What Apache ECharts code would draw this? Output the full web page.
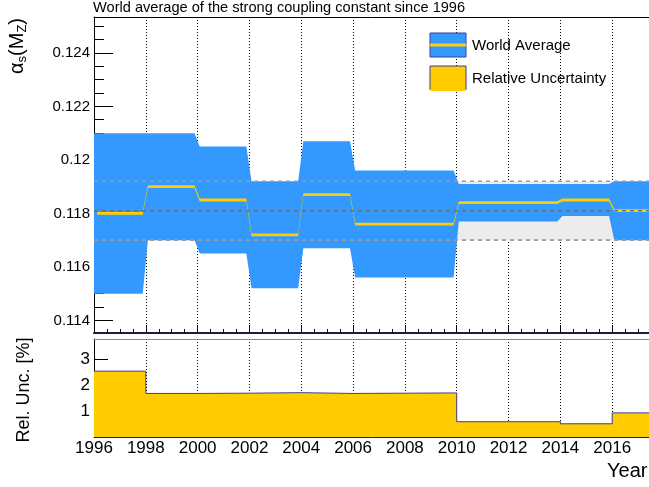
<!DOCTYPE html>
<html lang="en">
<head>
<meta charset="UTF-8">
<title>World average of alpha_s</title>
<script src="https://cdn.jsdelivr.net/npm/echarts@6/dist/echarts.min.js"></script>
<style>
    html, body { margin: 0; padding: 0; background: #fff; }
    #main { width: 649px; height: 487px; }
</style>
</head>
<body>
<div id="main"></div>
<script>
    // values
    var updateYears = [1996, 1998, 2000, 2002, 2004, 2006, 2010, 2012, 2014, 2016];
    var asCentral   = [0.1180, 0.1190, 0.1185, 0.1172, 0.1187, 0.1176, 0.1184, 0.1184, 0.1185, 0.1181];
    var asError     = [0.0030, 0.0020, 0.0020, 0.0020, 0.0020, 0.0020, 0.0007, 0.0007, 0.0006, 0.0011];
    var relUnc      = [2.54, 1.68, 1.69, 1.71, 1.68, 1.70, 0.59, 0.59, 0.51, 0.93];
    var refValue = 0.1181;
    var refBand  = [0.1170, 0.1192];
    var lastYear = 2018;

    // tick labels
    var yearTicks = [1996, 1998, 2000, 2002, 2004, 2006, 2008, 2010, 2012, 2014, 2016];
    var asTicks   = [0.114, 0.116, 0.118, 0.120, 0.122, 0.124];
    var relTicks  = [1, 2, 3];

    var FONT = 'Liberation Sans';
    var BLUE = '#3399ff', YELLOW = '#ffcc00', NAVY = '#3d3d99';

    var asMin = 0.11353, asMax = 0.12534;
    var asMinorTicks = [];
    for (var k = 0; k < 24; k++) asMinorTicks.push(Math.round((0.1135 + k * 0.0005) * 1e5) / 1e5);

    // band edges: flat between updates, short ramps around each update
    var riseBefore = 0.12, riseAfter = 0.08;
    function stepPath(values) {
        var pts = [];
        for (var i = 0; i < updateYears.length; i++) {
            var x0 = i === 0 ? updateYears[0] : updateYears[i] + riseAfter;
            var x1 = i === updateYears.length - 1 ? lastYear : updateYears[i + 1] - riseBefore;
            pts.push([x0, values[i]], [x1, values[i]]);
        }
        return pts;
    }
    var upperEdge = stepPath(asCentral.map(function (c, i) { return c + asError[i]; }));
    var lowerEdge = stepPath(asCentral.map(function (c, i) { return c - asError[i]; }));
    var centralPath = stepPath(asCentral);

    var relData = updateYears.map(function (y, i) { return [y, relUnc[i]]; });
    relData.push([lastYear, relUnc[relUnc.length - 1]]);

    function hline(v, color) {
        return {
            type: 'line', xAxisIndex: 0, yAxisIndex: 0, z: 5, silent: true,
            symbol: 'none', data: [[1996, v], [lastYear, v]],
            lineStyle: { color: color, width: 1.6, type: [4, 4] }
        };
    }

    var myChart = echarts.init(document.getElementById('main'));
    var option = {
        animation: false,
        backgroundColor: '#fff',
        grid: [
            { left: 94, top: 17, width: 570, height: 316, containLabel: false, outerBoundsMode: 'none' },
            { left: 94, top: 339, width: 570, height: 98, containLabel: false, outerBoundsMode: 'none' }
        ],
        xAxis: [
            {   // top panel, bottom axis
                gridIndex: 0, type: 'value', min: 1996, max: lastYear, interval: 2,
                axisLine: { lineStyle: { color: '#1c1c44', width: 2 } },
                axisTick: { inside: true, length: 8, lineStyle: { color: '#000' } },
                minorTick: { show: true, splitNumber: 4, length: 4, lineStyle: { color: '#000' } },
                axisLabel: { show: false },
                splitLine: { show: true, lineStyle: { color: '#000', width: 1, type: [1, 2] } }
            },
            {   // top panel frame
                gridIndex: 0, type: 'value', position: 'top', min: 1996, max: lastYear,
                axisLine: { lineStyle: { color: '#000', width: 1 } },
                axisTick: { show: false }, axisLabel: { show: false }, splitLine: { show: false }
            },
            {   // bottom panel, bottom axis
                gridIndex: 1, type: 'value', min: 1996, max: lastYear, interval: 2,
                axisLine: { lineStyle: { color: '#222', width: 1 } },
                axisTick: { show: false },
                axisLabel: {
                    customValues: yearTicks, fontFamily: FONT, fontSize: 17, color: '#000', margin: 3,
                    formatter: function (v) { return String(v); }
                },
                splitLine: { show: true, lineStyle: { color: '#000', width: 1, type: [1, 2] } }
            },
            {   // bottom panel frame
                gridIndex: 1, type: 'value', position: 'top', min: 1996, max: lastYear,
                axisLine: { lineStyle: { color: '#888', width: 1 } },
                axisTick: { show: false }, axisLabel: { show: false }, splitLine: { show: false }
            }
        ],
        yAxis: [
            {
                gridIndex: 0, type: 'value', min: asMin, max: asMax,
                axisLine: { show: true, lineStyle: { color: '#000', width: 1 } },
                axisTick: { show: true, inside: true, length: 19, customValues: asTicks, lineStyle: { color: '#000' } },
                axisLabel: { customValues: asTicks, fontFamily: FONT, fontSize: 15, color: '#000', margin: 4,
                    formatter: function (v) { return String(v); } },
                splitLine: { show: false }
            },
            {
                gridIndex: 0, type: 'value', min: asMin, max: asMax, position: 'left',
                axisLine: { show: false },
                axisTick: { show: true, inside: true, length: 10, customValues: asMinorTicks, lineStyle: { color: '#000' } },
                axisLabel: { show: false },
                splitLine: { show: false }
            },
            {
                gridIndex: 1, type: 'value', min: 0, max: 3.78,
                axisLine: { show: true, lineStyle: { color: '#000', width: 1 } },
                axisTick: { show: true, inside: true, length: 14, customValues: relTicks, lineStyle: { color: '#000' } },
                axisLabel: { customValues: relTicks, fontFamily: FONT, fontSize: 17, color: '#000', margin: 4 },
                splitLine: { show: false }
            }
        ],
        series: [
            {   // reference band behind everything
                type: 'custom', xAxisIndex: 0, yAxisIndex: 0, z: 1, silent: true,
                data: [[1996, refBand[0]]],
                renderItem: function (params, api) {
                    var pts = [[1996, refBand[0]], [lastYear, refBand[0]], [lastYear, refBand[1]], [1996, refBand[1]]]
                        .map(function (p) { return api.coord(p); });
                    return { type: 'polygon', shape: { points: pts }, style: { fill: '#ececec' } };
                }
            },
            {   // world average uncertainty band
                type: 'custom', xAxisIndex: 0, yAxisIndex: 0, z: 2, silent: true,
                data: [[1996, asCentral[0]]],
                renderItem: function (params, api) {
                    var pts = upperEdge.map(function (p) { return api.coord(p); })
                        .concat(lowerEdge.slice().reverse().map(function (p) { return api.coord(p); }));
                    return { type: 'polygon', shape: { points: pts }, style: { fill: BLUE } };
                }
            },
            {   // central value
                type: 'custom', xAxisIndex: 0, yAxisIndex: 0, z: 3, silent: true,
                data: [[1996, asCentral[0]]],
                renderItem: function (params, api) {
                    var c = centralPath.map(function (p) { return api.coord(p); });
                    c[0][0] += 3;
                    var top = c.map(function (p) { return [p[0], p[1] - 1.4]; });
                    var bot = c.slice().reverse().map(function (p) { return [p[0], p[1] + 1.4]; });
                    return { type: 'polygon', shape: { points: top.concat(bot) }, style: { fill: YELLOW } };
                }
            },
            hline(refBand[1], '#9a9a9a'),
            hline(refValue, '#6e6e6e'),
            hline(refBand[0], '#9a9a9a'),
            {   // relative uncertainty histogram
                type: 'line', xAxisIndex: 2, yAxisIndex: 2, z: 2, silent: true,
                step: 'end', symbol: 'none', data: relData,
                lineStyle: { color: NAVY, width: 1 },
                areaStyle: { color: YELLOW, opacity: 1 }
            }
        ],
        graphic: [
            { type: 'text', x: 93, y: 8, style: { text: 'World average of the strong coupling constant since 1996',
                fontFamily: FONT, fontSize: 14.6, fill: '#000', align: 'left', verticalAlign: 'middle' } },
            { type: 'text', x: 17, y: 46, rotation: Math.PI / 2, style: {
                text: '{a|α}{b|s}{a|(M}{b|Z}{a|)}', align: 'center', verticalAlign: 'middle',
                rich: {
                    a: { fontFamily: FONT, fontSize: 20, fill: '#000', lineHeight: 24, verticalAlign: 'middle' },
                    b: { fontFamily: FONT, fontSize: 13, fill: '#000', lineHeight: 13, verticalAlign: 'bottom' }
                } } },
            { type: 'text', x: 24, y: 390, rotation: Math.PI / 2, style: { text: 'Rel. Unc. [%]',
                fontFamily: FONT, fontSize: 18, fill: '#000', align: 'center', verticalAlign: 'middle' } },
            { type: 'text', x: 607, y: 471, style: { text: 'Year',
                fontFamily: FONT, fontSize: 20, fill: '#000', align: 'left', verticalAlign: 'middle' } },
            // legend
            { type: 'rect', shape: { x: 430, y: 33, width: 36, height: 24 }, style: { fill: BLUE, stroke: NAVY, lineWidth: 1 }, z: 10 },
            { type: 'rect', shape: { x: 430, y: 43.5, width: 36, height: 3 }, style: { fill: YELLOW }, z: 11 },
            { type: 'text', x: 472, y: 46, z: 11, style: { text: 'World Average',
                fontFamily: FONT, fontSize: 15, fill: '#000', align: 'left', verticalAlign: 'middle' } },
            { type: 'rect', shape: { x: 430, y: 66, width: 36, height: 24 }, style: { fill: YELLOW, stroke: NAVY, lineWidth: 1 }, z: 10 },
            { type: 'rect', shape: { x: 430, y: 89, width: 36, height: 2 }, style: { fill: YELLOW }, z: 11 },
            { type: 'text', x: 472, y: 79, z: 11, style: { text: 'Relative Uncertainty',
                fontFamily: FONT, fontSize: 15, fill: '#000', align: 'left', verticalAlign: 'middle' } }
        ]
    };
    myChart.setOption(option);
</script>
</body>
</html>
